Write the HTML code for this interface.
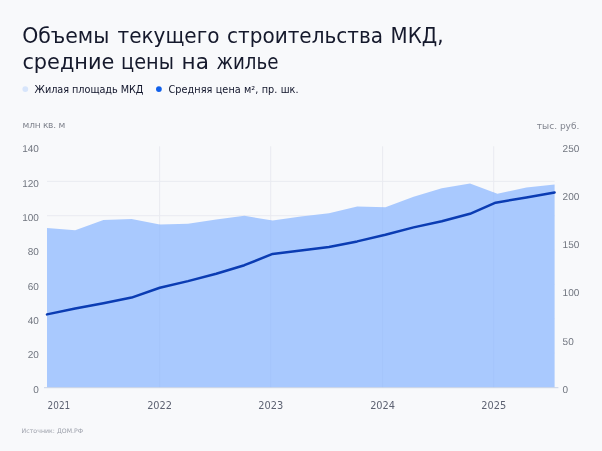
<!DOCTYPE html>
<html lang="ru">
<head>
<meta charset="utf-8">
<title>Объемы текущего строительства МКД</title>
<style>
html,body{margin:0;padding:0;background:#f8f9fb;}
body{width:602px;height:451px;overflow:hidden;}
svg{display:block;}
.t{font-family:"DejaVu Sans","Liberation Sans",sans-serif;}
.n{font-family:"Liberation Sans","DejaVu Sans",sans-serif;}
</style>
</head>
<body>
<svg width="602" height="451" viewBox="0 0 602 451">
<rect width="602" height="451" fill="#f8f9fb"/>
<g class="t" fill="#15192c" font-size="21.6">
<text y="43.3"><tspan x="22.20" textLength="87.23" lengthAdjust="spacingAndGlyphs">Объемы</tspan> <tspan x="117.50" textLength="102.00" lengthAdjust="spacingAndGlyphs">текущего</tspan> <tspan x="227.00" textLength="156.00" lengthAdjust="spacingAndGlyphs">строительства</tspan> <tspan x="390.60" textLength="52.96" lengthAdjust="spacingAndGlyphs">МКД,</tspan></text>
<text y="69.4"><tspan x="22.40" textLength="92.00" lengthAdjust="spacingAndGlyphs">средние</tspan> <tspan x="121.00" textLength="52.94" lengthAdjust="spacingAndGlyphs">цены</tspan> <tspan x="181.50" textLength="27.39" lengthAdjust="spacingAndGlyphs">на</tspan> <tspan x="216.50" textLength="62.00" lengthAdjust="spacingAndGlyphs">жилье</tspan></text>
</g>
<circle cx="25.3" cy="89.1" r="2.9" fill="#d7e5fb"/>
<circle cx="158.9" cy="89.1" r="2.9" fill="#1160ea"/>
<g class="t" fill="#10142a" font-size="9.7">
<text x="34.6" y="92.8" textLength="108.8" lengthAdjust="spacing">Жилая площадь МКД</text>
<text x="168.4" y="92.8" textLength="130.2" lengthAdjust="spacing">Средняя цена м², пр. шк.</text>
</g>
<g class="t" fill="#80848e" font-size="9">
<text x="22.6" y="128.2" textLength="42.6" lengthAdjust="spacing">млн кв. м</text>
<text x="536.8" y="128.8" textLength="42.6" lengthAdjust="spacing">тыс. руб.</text>
</g>
<g stroke="#e9ebf0" stroke-width="1" fill="none">
<line x1="47.0" x2="554.6" y1="353.06" y2="353.06"/>
<line x1="47.0" x2="554.6" y1="318.71" y2="318.71"/>
<line x1="47.0" x2="554.6" y1="284.37" y2="284.37"/>
<line x1="47.0" x2="554.6" y1="250.03" y2="250.03"/>
<line x1="47.0" x2="554.6" y1="215.69" y2="215.69"/>
<line x1="47.0" x2="554.6" y1="181.34" y2="181.34"/>
<line x1="159.6" x2="159.6" y1="146.3" y2="387.4"/>
<line x1="270.7" x2="270.7" y1="146.3" y2="387.4"/>
<line x1="382.6" x2="382.6" y1="146.3" y2="387.4"/>
<line x1="493.7" x2="493.7" y1="146.3" y2="387.4"/>
</g>
<polygon fill="#a9c9fe" points="47.0,387.4 47.0,227.9 75.2,230.2 103.4,219.9 131.6,219.1 159.8,224.4 188.0,223.7 216.2,219.5 244.4,215.8 272.6,220.5 300.8,216.6 329.0,213.3 357.2,206.5 385.4,207.2 413.6,196.8 441.8,188.3 470.0,183.5 497.4,193.8 526.4,187.4 554.6,184.6 554.6,387.4"/>
<clipPath id="ac"><polygon points="47.0,387.4 47.0,227.9 75.2,230.2 103.4,219.9 131.6,219.1 159.8,224.4 188.0,223.7 216.2,219.5 244.4,215.8 272.6,220.5 300.8,216.6 329.0,213.3 357.2,206.5 385.4,207.2 413.6,196.8 441.8,188.3 470.0,183.5 497.4,193.8 526.4,187.4 554.6,184.6 554.6,387.4"/></clipPath>
<g stroke="#9fc0f8" stroke-width="1" fill="none" opacity="0.45" clip-path="url(#ac)">
<line x1="159.6" x2="159.6" y1="147.0" y2="387.4"/><line x1="270.7" x2="270.7" y1="147.0" y2="387.4"/><line x1="382.6" x2="382.6" y1="147.0" y2="387.4"/><line x1="493.7" x2="493.7" y1="147.0" y2="387.4"/>
</g>
<line x1="44" x2="558.4" y1="387.7" y2="387.7" stroke="#c9d3e6" stroke-width="1"/>
<polyline fill="none" stroke="#0b3cb3" stroke-width="2.5" stroke-linecap="round" stroke-linejoin="round" points="47.0,314.4 75.2,308.5 103.4,303.2 131.6,297.6 159.8,287.7 188.0,281.1 216.2,273.7 244.4,265.2 272.6,253.9 300.8,250.6 329.0,246.9 357.2,241.4 385.4,234.8 413.6,227.4 441.8,221.2 470.0,213.8 495.6,202.7 526.4,197.4 554.6,192.4"/>
<g class="n" fill="#70757f" font-size="10" text-rendering="geometricPrecision">
<text x="38.9" y="392.6" text-anchor="end">0</text>
<text x="38.9" y="358.3" text-anchor="end">20</text>
<text x="38.9" y="323.9" text-anchor="end">40</text>
<text x="38.9" y="289.6" text-anchor="end">60</text>
<text x="38.9" y="255.2" text-anchor="end">80</text>
<text x="38.9" y="220.9" text-anchor="end">100</text>
<text x="38.9" y="186.5" text-anchor="end">120</text>
<text x="38.9" y="152.2" text-anchor="end">140</text>
<text x="562.6" y="392.6">0</text>
<text x="562.6" y="344.5">50</text>
<text x="562.6" y="296.4">100</text>
<text x="562.6" y="248.4">150</text>
<text x="562.6" y="200.3">200</text>
<text x="562.6" y="152.2">250</text>
</g>
<g class="t" fill="#5d6272" font-size="9.8">
<text x="47.6" y="409.2" textLength="22.6" lengthAdjust="spacingAndGlyphs">2021</text>
<text x="159.6" y="409.2" text-anchor="middle">2022</text>
<text x="270.7" y="409.2" text-anchor="middle">2023</text>
<text x="382.6" y="409.2" text-anchor="middle">2024</text>
<text x="493.7" y="409.2" text-anchor="middle">2025</text>
</g>
<text class="t" x="21.6" y="432.9" font-size="6.2" fill="#9da1ab" textLength="61.6" lengthAdjust="spacing">Источник: ДОМ.РФ</text>
</svg>
</body>
</html>
